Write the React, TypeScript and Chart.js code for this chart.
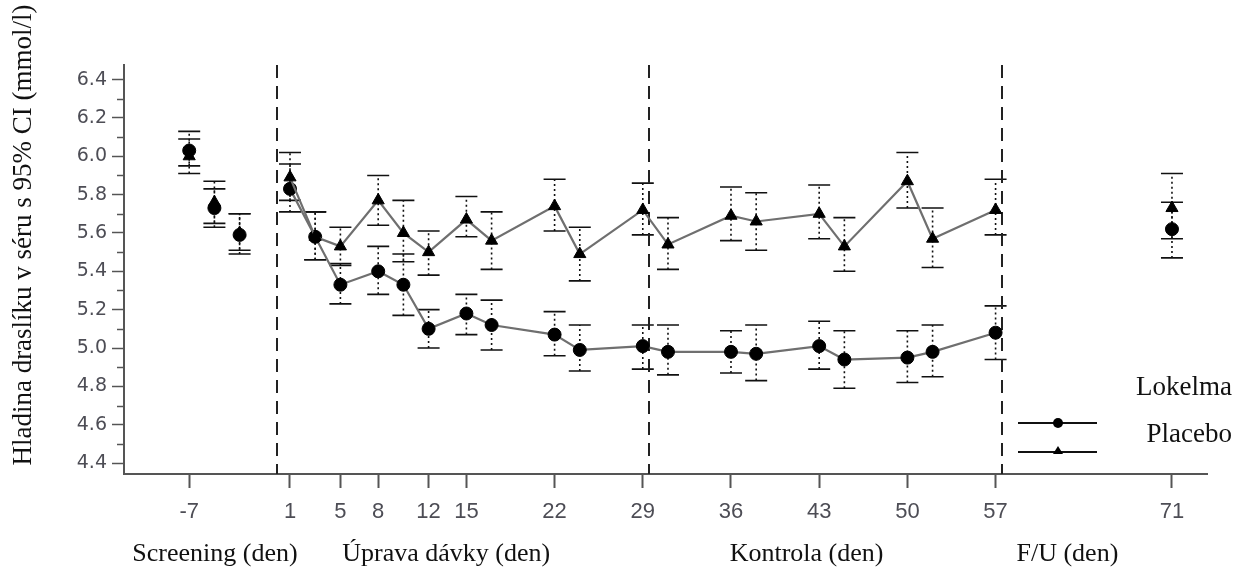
import React, { useEffect, useRef } from 'react';
import { Chart, registerables } from 'chart.js';

Chart.register(...registerables);

// ---- data ----
const days = [1, 3, 5, 8, 10, 12, 15, 17, 22, 24, 29, 31, 36, 38, 43, 45, 50, 52, 57];

const lokelmaMean = [5.83, 5.58, 5.33, 5.40, 5.33, 5.10, 5.18, 5.12, 5.07, 4.99, 5.01, 4.98, 4.98, 4.97, 5.01, 4.94, 4.95, 4.98, 5.08];
const lokelmaLow = [5.71, 5.46, 5.23, 5.28, 5.17, 5.00, 5.07, 4.99, 4.96, 4.88, 4.89, 4.86, 4.87, 4.83, 4.89, 4.79, 4.82, 4.85, 4.94];
const lokelmaHigh = [5.96, 5.71, 5.44, 5.53, 5.49, 5.20, 5.28, 5.25, 5.19, 5.12, 5.12, 5.12, 5.09, 5.12, 5.14, 5.09, 5.09, 5.12, 5.22];

const placeboMean = [5.89, 5.58, 5.53, 5.77, 5.60, 5.50, 5.67, 5.56, 5.74, 5.49, 5.72, 5.54, 5.69, 5.66, 5.70, 5.53, 5.87, 5.57, 5.72];
const placeboLow = [5.77, 5.46, 5.43, 5.64, 5.45, 5.38, 5.58, 5.41, 5.61, 5.35, 5.59, 5.41, 5.56, 5.51, 5.57, 5.40, 5.73, 5.42, 5.59];
const placeboHigh = [6.02, 5.71, 5.63, 5.90, 5.77, 5.61, 5.79, 5.71, 5.88, 5.63, 5.86, 5.68, 5.84, 5.81, 5.85, 5.68, 6.02, 5.73, 5.88];

// screening (-7, -5, -3) and follow-up (71) visits, not connected
const offDays = [-7, -5, -3, 71];
const lokelmaOffMean = [6.03, 5.73, 5.59, 5.62];
const lokelmaOffLow = [5.95, 5.63, 5.49, 5.47];
const lokelmaOffHigh = [6.13, 5.83, 5.70, 5.76];
const placeboOffMean = [6.00, 5.76, 5.60, 5.73];
const placeboOffLow = [5.91, 5.65, 5.51, 5.57];
const placeboOffHigh = [6.09, 5.87, 5.70, 5.91];

const xTickValues = [-7, 1, 5, 8, 12, 15, 22, 29, 36, 43, 50, 57, 71];
const yTickValues = [4.4, 4.5, 4.6, 4.7, 4.8, 4.9, 5.0, 5.1, 5.2, 5.3, 5.4, 5.5, 5.6, 5.7, 5.8, 5.9, 6.0, 6.1, 6.2, 6.3, 6.4];

const phaseBoundaries = [0, 29.5, 57.5];
const phaseLabels = ['Screening (den)', 'Úprava dávky (den)', 'Kontrola (den)', 'F/U (den)'];
const seriesNames = ['Lokelma', 'Placebo'];
const yTitle = 'Hladina draslíku v séru s 95% CI (mmol/l)';

// ---- layout / style ----
const phaseLabelDays = [-4.95, 13.4, 42.0, 62.7];
const AXIS = '#555555';
const TICK_TXT = '#4d4d55';
const SERIF = '"Liberation Serif", "Times New Roman", serif';

function hasFont(name: string): boolean {
  const c = document.createElement('canvas').getContext('2d');
  if (!c) return false;
  const s = 'mmmmmmmmmmlli0123456789';
  c.font = '40px monospace';
  const a = c.measureText(s).width;
  c.font = `40px "${name}", monospace`;
  const b = c.measureText(s).width;
  return Math.abs(a - b) > 0.5;
}

const isMajor = (v: number) => Math.round(v * 10) % 2 === 0;

const errorBarPlugin = {
  id: 'errorBars',
  beforeDatasetsDraw(chart: any) {
    const ctx = chart.ctx;
    const ys = chart.scales.y;
    chart.data.datasets.forEach((ds: any, di: number) => {
      if (!ds.errLow) return;
      const meta = chart.getDatasetMeta(di);
      meta.data.forEach((pt: any, i: number) => {
        const x = pt.x;
        const yl = ys.getPixelForValue(ds.errLow[i]);
        const yh = ys.getPixelForValue(ds.errHigh[i]);
        ctx.save();
        ctx.strokeStyle = '#111';
        ctx.lineWidth = 1.6;
        ctx.setLineDash([2, 3]);
        ctx.beginPath();
        ctx.moveTo(x, yl);
        ctx.lineTo(x, yh);
        ctx.stroke();
        ctx.setLineDash([]);
        ctx.lineWidth = 1.6;
        ctx.beginPath();
        ctx.moveTo(x - 11, yl);
        ctx.lineTo(x + 11, yl);
        ctx.moveTo(x - 11, yh);
        ctx.lineTo(x + 11, yh);
        ctx.stroke();
        ctx.restore();
      });
    });
  },
};

const decorPlugin = {
  id: 'decor',
  beforeDatasetsDraw(chart: any) {
    const ctx = chart.ctx;
    const { top, bottom } = chart.chartArea;
    const xs = chart.scales.x;
    ctx.save();
    ctx.strokeStyle = '#222';
    ctx.lineWidth = 2;
    ctx.setLineDash([13, 8]);
    phaseBoundaries.forEach((d) => {
      const x = Math.round(xs.getPixelForValue(d));
      ctx.beginPath();
      ctx.moveTo(x, top);
      ctx.lineTo(x, bottom);
      ctx.stroke();
    });
    ctx.restore();
  },
  afterDraw(chart: any) {
    const ctx = chart.ctx;
    const { left } = chart.chartArea;
    const xs = chart.scales.x;
    const ys = chart.scales.y;
    ctx.save();
    // minor ticks on y axis
    ctx.strokeStyle = AXIS;
    ctx.lineWidth = 1.5;
    yTickValues.forEach((v) => {
      if (isMajor(v)) return;
      const y = Math.round(ys.getPixelForValue(v)) + 0.5;
      ctx.beginPath();
      ctx.moveTo(left - 7, y);
      ctx.lineTo(left, y);
      ctx.stroke();
    });
    // phase labels
    ctx.fillStyle = '#111';
    ctx.font = `26px ${SERIF}`;
    ctx.textAlign = 'center';
    ctx.textBaseline = 'alphabetic';
    phaseLabels.forEach((t, i) => {
      ctx.fillText(t, xs.getPixelForValue(phaseLabelDays[i]), 561);
    });
    // y title
    ctx.save();
    ctx.translate(31, 235);
    ctx.rotate(-Math.PI / 2);
    ctx.font = `27px ${SERIF}`;
    ctx.textAlign = 'center';
    ctx.textBaseline = 'alphabetic';
    ctx.fillText(yTitle, 0, 0);
    ctx.restore();
    // legend
    ctx.font = `27px ${SERIF}`;
    ctx.textAlign = 'right';
    ctx.fillText(seriesNames[0], 1232, 395);
    ctx.fillText(seriesNames[1], 1232, 442);
    ctx.strokeStyle = '#111';
    ctx.lineWidth = 2;
    ctx.beginPath();
    ctx.moveTo(1018, 423);
    ctx.lineTo(1097, 423);
    ctx.moveTo(1018, 452);
    ctx.lineTo(1097, 452);
    ctx.stroke();
    ctx.fillStyle = '#000';
    ctx.beginPath();
    ctx.arc(1058, 423, 5, 0, Math.PI * 2);
    ctx.fill();
    ctx.beginPath();
    ctx.moveTo(1058, 446);
    ctx.lineTo(1063, 454);
    ctx.lineTo(1053, 454);
    ctx.closePath();
    ctx.fill();
    ctx.restore();
  },
};

export default function App() {
  const ref = useRef<HTMLCanvasElement | null>(null);

  useEffect(() => {
    document.body.style.margin = '0';
    if (!ref.current) return;
    const narrow = hasFont('Liberation Sans Narrow');
    const xFont = narrow
      ? { family: '"Liberation Sans Narrow", sans-serif', size: 26 }
      : { family: '"Liberation Sans", Arial, sans-serif', size: 22 };

    const mk = (xs: number[], ys: number[]) => xs.map((x, i) => ({ x, y: ys[i] }));
    const pointCommon = {
      pointBackgroundColor: '#000',
      pointBorderColor: '#000',
      pointBorderWidth: 1,
      pointHoverRadius: 0,
    };

    const chart = new Chart(ref.current, {
      type: 'scatter',
      data: {
        datasets: [
          {
            label: seriesNames[1],
            data: mk(days, placeboMean),
            errLow: placeboLow,
            errHigh: placeboHigh,
            showLine: true,
            borderColor: '#6f6f6f',
            borderWidth: 2.2,
            pointStyle: 'triangle',
            pointRadius: 7,
            ...pointCommon,
          } as any,
          {
            label: seriesNames[0],
            data: mk(days, lokelmaMean),
            errLow: lokelmaLow,
            errHigh: lokelmaHigh,
            showLine: true,
            borderColor: '#6f6f6f',
            borderWidth: 2.2,
            pointStyle: 'circle',
            pointRadius: 6.5,
            ...pointCommon,
          } as any,
          {
            label: seriesNames[1] + ' off',
            data: mk(offDays, placeboOffMean),
            errLow: placeboOffLow,
            errHigh: placeboOffHigh,
            showLine: false,
            pointStyle: 'triangle',
            pointRadius: 7,
            ...pointCommon,
          } as any,
          {
            label: seriesNames[0] + ' off',
            data: mk(offDays, lokelmaOffMean),
            errLow: lokelmaOffLow,
            errHigh: lokelmaOffHigh,
            showLine: false,
            pointStyle: 'circle',
            pointRadius: 6.5,
            ...pointCommon,
          } as any,
        ],
      },
      options: {
        animation: false,
        responsive: false,
        devicePixelRatio: 1,
        layout: { padding: { top: 65, right: 29, bottom: 0, left: 0 } },
        plugins: { legend: { display: false }, tooltip: { enabled: false } },
        events: [],
        scales: {
          x: {
            type: 'linear',
            min: -12.175,
            max: 73.78,
            afterBuildTicks: (s: any) => {
              s.ticks = xTickValues.map((v) => ({ value: v }));
            },
            afterFit: (s: any) => {
              s.height = 94;
            },
            ticks: {
              autoSkip: false,
              maxRotation: 0,
              padding: 11,
              color: TICK_TXT,
              font: xFont,
              callback: (v: any) => String(v),
            },
            grid: { drawOnChartArea: false, drawTicks: true, tickLength: 14, tickColor: AXIS, tickWidth: 2 },
            border: { display: true, color: AXIS, width: 2 },
          },
          y: {
            type: 'linear',
            min: 4.343,
            max: 6.476,
            afterBuildTicks: (s: any) => {
              s.ticks = yTickValues.map((v) => ({ value: v }));
            },
            afterFit: (s: any) => {
              s.width = 124;
            },
            ticks: {
              autoSkip: false,
              padding: 5,
              color: TICK_TXT,
              font: { family: '"DejaVu Sans", sans-serif', size: 19 },
              callback: (v: any) => (isMajor(Number(v)) ? Number(v).toFixed(1) : ''),
            },
            grid: {
              drawOnChartArea: false,
              drawTicks: true,
              tickLength: 12,
              tickWidth: 1.5,
              tickColor: (c: any) => (c.tick && isMajor(c.tick.value) ? AXIS : 'rgba(0,0,0,0)'),
            },
            border: { display: true, color: AXIS, width: 2 },
          },
        },
      } as any,
      plugins: [errorBarPlugin, decorPlugin],
    });
    return () => chart.destroy();
  }, []);

  return (
    <div style={{ width: 1236, height: 568, background: '#fff' }}>
      <canvas ref={ref} width={1236} height={568} style={{ display: 'block' }} />
    </div>
  );
}
